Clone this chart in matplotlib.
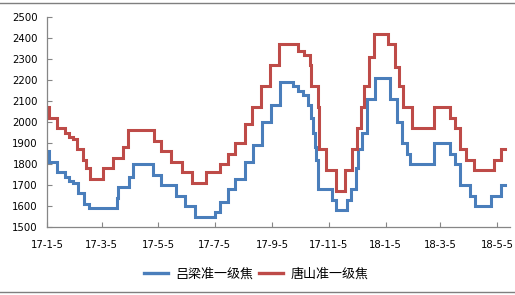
import pandas as pd
import matplotlib
matplotlib.use("Agg")
import matplotlib.pyplot as plt
import matplotlib.dates as mdates
from matplotlib.lines import Line2D

plt.rcParams["font.family"] = ["DejaVu Sans", "Noto Sans CJK SC"]

# change points of the step series (date, price)
lvliang_dates = [
    "2017-01-05", "2017-01-07", "2017-01-16", "2017-01-24", "2017-01-29", "2017-02-02",
    "2017-02-07", "2017-02-14", "2017-02-19", "2017-03-21", "2017-03-23", "2017-04-03",
    "2017-04-08", "2017-04-29", "2017-05-08", "2017-05-24", "2017-06-03", "2017-06-14",
    "2017-07-05", "2017-07-10", "2017-07-19", "2017-07-27", "2017-08-06", "2017-08-15",
    "2017-08-25", "2017-09-03", "2017-09-13", "2017-09-27", "2017-10-02", "2017-10-08",
    "2017-10-13", "2017-10-16", "2017-10-19", "2017-10-21", "2017-10-22", "2017-10-24",
    "2017-11-08", "2017-11-12", "2017-11-24", "2017-11-29", "2017-12-04", "2017-12-06",
    "2017-12-10", "2017-12-16", "2017-12-24", "2018-01-10", "2018-01-17", "2018-01-23",
    "2018-01-28", "2018-01-31", "2018-02-26", "2018-03-15", "2018-03-21", "2018-03-26",
    "2018-04-06", "2018-04-11", "2018-04-29", "2018-05-09", "2018-05-14",
]
lvliang_values = [
    1860, 1810, 1760, 1740, 1720, 1710,
    1660, 1610, 1590, 1640, 1690, 1740,
    1800, 1750, 1700, 1650, 1600, 1550,
    1570, 1620, 1680, 1730, 1810, 1890,
    2000, 2080, 2190, 2170, 2150, 2130,
    2080, 2020, 1950, 1880, 1820, 1680,
    1630, 1580, 1630, 1680, 1780, 1870,
    1950, 2110, 2210, 2110, 2000, 1900,
    1850, 1800, 1900, 1850, 1800, 1700,
    1650, 1600, 1650, 1700, 1700,
]

tangshan_dates = [
    "2017-01-05", "2017-01-07", "2017-01-16", "2017-01-24", "2017-01-29", "2017-02-02",
    "2017-02-06", "2017-02-13", "2017-02-16", "2017-02-20", "2017-03-06", "2017-03-17",
    "2017-03-28", "2017-04-02", "2017-04-30", "2017-05-08", "2017-05-19", "2017-05-30",
    "2017-06-10", "2017-06-25", "2017-07-10", "2017-07-19", "2017-07-27", "2017-08-06",
    "2017-08-14", "2017-08-24", "2017-09-02", "2017-09-12", "2017-10-03", "2017-10-09",
    "2017-10-15", "2017-10-17", "2017-10-24", "2017-10-25", "2017-11-02", "2017-11-13",
    "2017-11-22", "2017-11-30", "2017-12-05", "2017-12-09", "2017-12-13", "2017-12-18",
    "2017-12-23", "2018-01-07", "2018-01-15", "2018-01-19", "2018-01-24", "2018-02-02",
    "2018-02-26", "2018-03-15", "2018-03-21", "2018-03-26", "2018-04-02", "2018-04-10",
    "2018-05-02", "2018-05-09", "2018-05-14",
]
tangshan_values = [
    2070, 2020, 1970, 1950, 1930, 1920,
    1870, 1820, 1780, 1730, 1780, 1830,
    1880, 1960, 1910, 1860, 1810, 1760,
    1710, 1760, 1800, 1850, 1900, 1990,
    2070, 2170, 2270, 2370, 2340, 2320,
    2270, 2170, 2070, 1870, 1770, 1670,
    1770, 1870, 1970, 2070, 2170, 2310,
    2420, 2370, 2260, 2170, 2070, 1970,
    2070, 2020, 1970, 1870, 1820, 1770,
    1820, 1870, 1870,
]

tick_dates = ["2017-01-05", "2017-03-05", "2017-05-05", "2017-07-05", "2017-09-05",
              "2017-11-05", "2018-01-05", "2018-03-05", "2018-05-05"]
tick_labels = ["17-1-5", "17-3-5", "17-5-5", "17-7-5", "17-9-5",
               "17-11-5", "18-1-5", "18-3-5", "18-5-5"]
series_names = ["吕梁准一级焦", "唐山准一级焦"]


def main():
    fig = plt.figure(figsize=(5.15, 2.95), dpi=100)
    ax = fig.add_axes([47 / 515, 68 / 295, 463 / 515, 210 / 295])

    blue = "#4A7EBB"
    red = "#BE4B48"
    ax.plot(pd.to_datetime(lvliang_dates), lvliang_values, drawstyle="steps-post",
            color=blue, lw=2.2, solid_joinstyle="miter")
    ax.plot(pd.to_datetime(tangshan_dates), tangshan_values, drawstyle="steps-post",
            color=red, lw=2.2, solid_joinstyle="miter")

    ax.set_ylim(1500, 2500)
    ax.set_yticks(range(1500, 2501, 100))
    ax.set_xlim(pd.Timestamp("2017-01-05"), pd.Timestamp("2018-05-19"))
    ax.set_xticks(pd.to_datetime(tick_dates))
    ax.set_xticklabels(tick_labels)

    for s in ["top", "right"]:
        ax.spines[s].set_visible(False)
    for s in ["left", "bottom"]:
        ax.spines[s].set_color("#868686")
        ax.spines[s].set_linewidth(0.9)
    ax.tick_params(axis="y", direction="in", length=3.5, color="#868686",
                   labelsize=7.3, pad=6.5)
    ax.tick_params(axis="x", direction="in", length=3.5, color="#868686",
                   labelsize=7.3, pad=9)

    handles = [Line2D([], [], color=blue, lw=2.4), Line2D([], [], color=red, lw=2.4)]
    fig.legend(handles, series_names, loc="center", bbox_to_anchor=(0.497, 0.071),
               ncol=2, frameon=False, handlelength=1.85, handletextpad=0.55,
               columnspacing=0.45, prop={"family": "Noto Sans CJK SC", "size": 9.4})

    # chart border lines (top and bottom)
    fig.add_artist(Line2D([0, 1], [1 - 3 / 295, 1 - 3 / 295], color="#7F7F7F", lw=1.0,
                          transform=fig.transFigure))
    fig.add_artist(Line2D([0, 1], [3 / 295, 3 / 295], color="#7F7F7F", lw=1.0,
                          transform=fig.transFigure))

    fig.savefig("out.png", dpi=100)


if __name__ == "__main__":
    main()
